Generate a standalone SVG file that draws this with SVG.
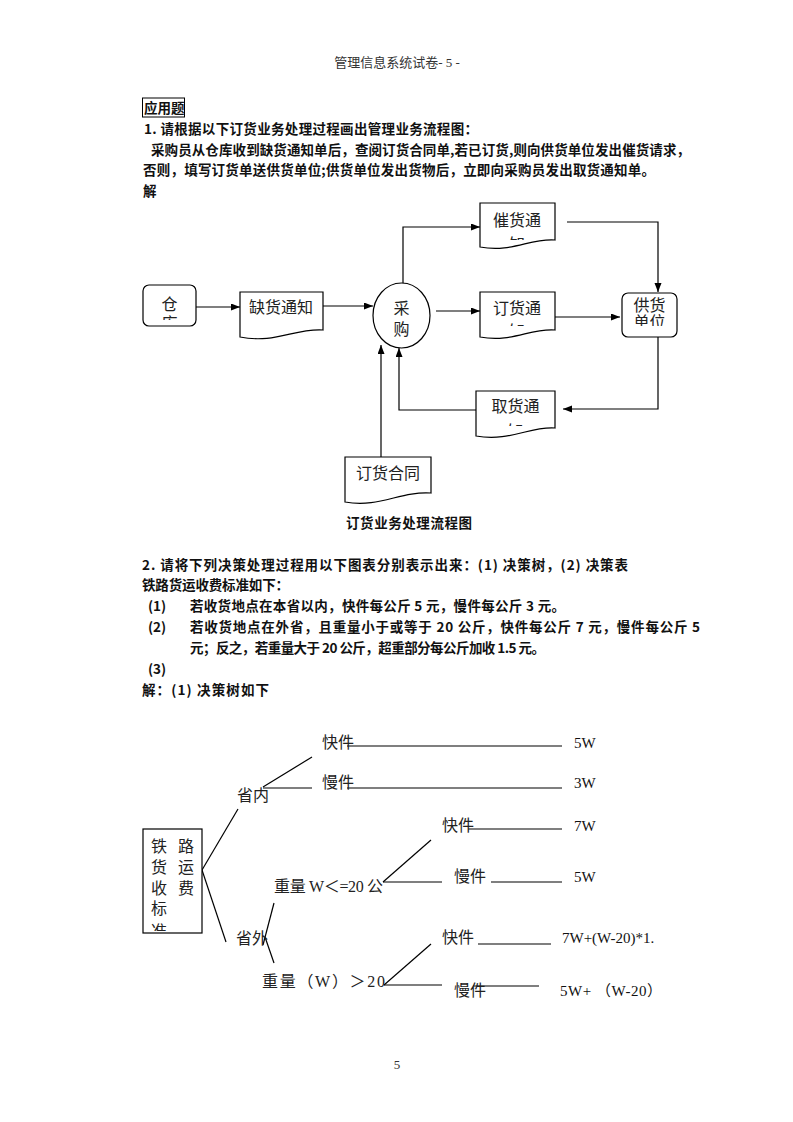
<svg xmlns="http://www.w3.org/2000/svg" width="793" height="1122" viewBox="0 0 793 1122">
<style>
.bg{fill:#fff}
.body{font-family:"Noto Sans CJK SC","Liberation Sans",sans-serif;font-size:13.5px;font-weight:bold;fill:#111}
.node{font-family:"Liberation Serif","Noto Sans CJK SC",serif;font-size:16px;fill:#222}
.lat{font-family:"Liberation Serif","Noto Sans CJK SC",serif;font-size:15px;fill:#111}
.hdr{font-family:"Liberation Serif","Noto Sans CJK SC",serif;font-size:13px;fill:#333}
.shape{fill:#fff;stroke:#000;stroke-width:1.2}
.ln{fill:none;stroke:#000;stroke-width:1.2}
.arr{fill:none;stroke:#000;stroke-width:1.2;marker-end:url(#ah)}
</style>
<defs>
<marker id="ah" markerUnits="userSpaceOnUse" markerWidth="10" markerHeight="8" refX="9" refY="3.5" orient="auto">
<path d="M0,0 L9,3.5 L0,7 z" fill="#000"/>
</marker>
<clipPath id="cCang"><rect x="143" y="285" width="53" height="35"/></clipPath>
<clipPath id="cGong"><rect x="622" y="293" width="55" height="33"/></clipPath>
<clipPath id="cCui"><rect x="480" y="203" width="75" height="37"/></clipPath>
<clipPath id="cDing"><rect x="480" y="292" width="75" height="34"/></clipPath>
<clipPath id="cQu"><rect x="476" y="391" width="79" height="35"/></clipPath>
<clipPath id="cTree"><rect x="143" y="829" width="59" height="102"/></clipPath>
</defs>
<rect class="bg" x="0" y="0" width="793" height="1122"/>

<g id="page-text">
<text class="hdr" x="397" y="67" text-anchor="middle">管理信息系统试卷- 5 -</text>
<rect x="142.5" y="98" width="42" height="19" fill="none" stroke="#000" stroke-width="1"/>
<text class="body" x="144" y="112.5">应用题</text>
<text class="body" x="144" y="134" textLength="334" lengthAdjust="spacing">1. 请根据以下订货业务处理过程画出管理业务流程图：</text>
<text class="body" x="151" y="155" textLength="539" lengthAdjust="spacing">采购员从仓库收到缺货通知单后，查阅订货合同单,若已订货,则向供货单位发出催货请求，</text>
<text class="body" x="143" y="175" textLength="512" lengthAdjust="spacing">否则，填写订货单送供货单位;供货单位发出货物后，立即向采购员发出取货通知单。</text>
<text class="body" x="143" y="196">解</text>
<text class="body" x="346" y="528" textLength="126" lengthAdjust="spacing">订货业务处理流程图</text>
<text class="body" x="142" y="570" textLength="486" lengthAdjust="spacing">2. 请将下列决策处理过程用以下图表分别表示出来：(1) 决策树，(2) 决策表</text>
<text class="body" x="142" y="590" textLength="147" lengthAdjust="spacing">铁路货运收费标准如下：</text>
<text class="body" x="148" y="611">(1)</text>
<text class="body" x="190" y="611" textLength="375" lengthAdjust="spacing">若收货地点在本省以内，快件每公斤 5 元，慢件每公斤 3 元。</text>
<text class="body" x="148" y="632">(2)</text>
<text class="body" x="190" y="632" textLength="510" lengthAdjust="spacing">若收货地点在外省，且重量小于或等于 20 公斤，快件每公斤 7 元，慢件每公斤 5</text>
<text class="body" x="190" y="653" textLength="355" lengthAdjust="spacing">元；反之，若重量大于 20 公斤，超重部分每公斤加收 1.5 元。</text>
<text class="body" x="148" y="674">(3)</text>
<text class="body" x="142" y="695" textLength="127" lengthAdjust="spacing">解：(1) 决策树如下</text>
<text class="hdr" x="397" y="1069" text-anchor="middle">5</text>
</g>

<g id="connectors">
<path class="arr" d="M196,307 H240"/>
<path class="arr" d="M323,306 H373"/>
<path class="arr" d="M403,283 V227 H480"/>
<path class="arr" d="M436,311 H480"/>
<path class="arr" d="M552,317 H620"/>
<path class="arr" d="M567,222 H658 V292"/>
<path class="arr" d="M658,337 V409 H563"/>
<path class="arr" d="M476,410 H399 V348"/>
<path class="arr" d="M381,457 V345"/>
</g>

<g id="n-cangku">
<rect class="shape" x="143" y="285" width="53" height="41" rx="6"/>
<g clip-path="url(#cCang)">
<text class="node" x="169.5" y="310" text-anchor="middle">仓</text>
<text class="node" x="169.5" y="329" text-anchor="middle">库</text>
</g>
</g>

<g id="n-quehuo">
<path class="shape" d="M240,292 H323 V330 C295,328 275,344 240,337 Z"/>
<text class="node" x="281" y="313" text-anchor="middle">缺货通知</text>
</g>

<g id="n-caigou">
<ellipse class="shape" cx="401.5" cy="315.5" rx="28.5" ry="32.5"/>
<text class="node" x="401.5" y="314" text-anchor="middle" font-size="17">采</text>
<text class="node" x="401.5" y="335" text-anchor="middle" font-size="17">购</text>
</g>

<g id="n-cuihuo">
<path class="shape" d="M480,203 H555 V240 C530,238 512,253 480,247 Z"/>
<g clip-path="url(#cCui)">
<text class="node" x="517" y="226" text-anchor="middle">催货通</text>
<text class="node" x="517" y="250" text-anchor="middle">知</text>
</g>
</g>

<g id="n-dinghuo">
<path class="shape" d="M480,292 H555 V330 C530,328 512,343 480,337 Z"/>
<g clip-path="url(#cDing)">
<text class="node" x="517" y="314" text-anchor="middle">订货通</text>
<text class="node" x="517" y="337" text-anchor="middle">知</text>
</g>
</g>

<g id="n-gonghuo">
<rect class="shape" x="622" y="293" width="55" height="44" rx="6"/>
<g clip-path="url(#cGong)">
<text class="node" x="649.5" y="311" text-anchor="middle">供货</text>
<text class="node" x="649.5" y="328" text-anchor="middle" font-size="14">单位</text>
</g>
</g>

<g id="n-quhuo">
<path class="shape" d="M476,391 H555 V428 C530,426 510,442 476,436 Z"/>
<g clip-path="url(#cQu)">
<text class="node" x="515.5" y="412" text-anchor="middle">取货通</text>
<text class="node" x="515.5" y="437" text-anchor="middle">知</text>
</g>
</g>

<g id="n-hetong">
<path class="shape" d="M345,457 H431 V493 C400,491 380,508 345,502 Z"/>
<text class="node" x="388" y="479" text-anchor="middle">订货合同</text>
</g>

<g id="tree-lines">
<path class="ln" d="M202,870 L238,809"/>
<path class="ln" d="M202,870 L226,942"/>
<path class="ln" d="M263,787 L312,757"/>
<path class="ln" d="M263,788 H312"/>
<path class="ln" d="M347,746 H562"/>
<path class="ln" d="M347,788 H562"/>
<path class="ln" d="M274,903 L263,945"/>
<path class="ln" d="M265,937 L274,963"/>
<path class="ln" d="M383,882 L431,840"/>
<path class="ln" d="M383,882 H442"/>
<path class="ln" d="M468,829 H562"/>
<path class="ln" d="M491,882 H562"/>
<path class="ln" d="M384,985 L431,944"/>
<path class="ln" d="M384,985 H442"/>
<path class="ln" d="M478,944 H551"/>
<path class="ln" d="M473,986 H539"/>
</g>

<g id="t-root">
<rect class="shape" x="143" y="829" width="59" height="104"/>
<g clip-path="url(#cTree)">
<text class="node" x="159" y="852" text-anchor="middle">铁</text>
<text class="node" x="186" y="852" text-anchor="middle">路</text>
<text class="node" x="159" y="873" text-anchor="middle">货</text>
<text class="node" x="186" y="873" text-anchor="middle">运</text>
<text class="node" x="159" y="894" text-anchor="middle">收</text>
<text class="node" x="186" y="894" text-anchor="middle">费</text>
<text class="node" x="159" y="914" text-anchor="middle">标</text>
<text class="node" x="159" y="937" text-anchor="middle">准</text>
</g>
</g>

<g id="t-labels">
<text class="node" x="237" y="801">省内</text>
<text class="node" x="322" y="748">快件</text>
<text class="node" x="322" y="788">慢件</text>
<text class="lat" x="574" y="748">5W</text>
<text class="lat" x="574" y="788">3W</text>
<text class="node" x="236" y="944">省外</text>
<text class="node" x="274" y="892" textLength="109" lengthAdjust="spacing">重量 W＜=20 公</text>
<text class="node" x="442" y="831">快件</text>
<text class="node" x="454" y="882">慢件</text>
<text class="lat" x="574" y="831">7W</text>
<text class="lat" x="574" y="882">5W</text>
<text class="node" x="262" y="987" textLength="123" lengthAdjust="spacing">重量（W）＞20</text>
<text class="node" x="442" y="943">快件</text>
<text class="node" x="454" y="996">慢件</text>
<text class="lat" x="562" y="943">7W+(W-20)*1.</text>
<text class="lat" x="560" y="996" textLength="102" lengthAdjust="spacing">5W+ （W-20）</text>
</g>
</svg>
